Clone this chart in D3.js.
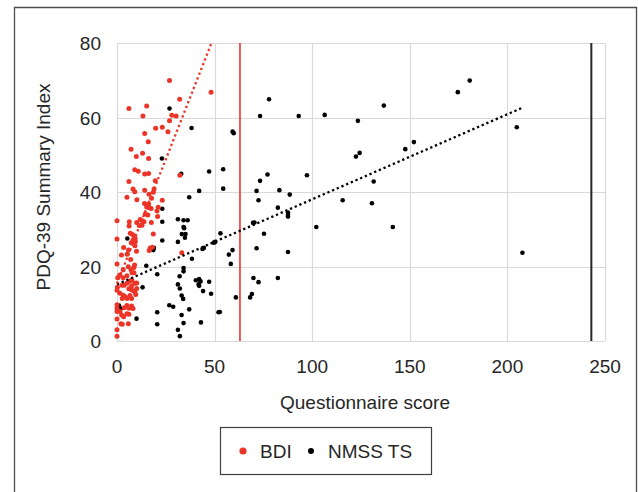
<!DOCTYPE html>
<html>
<head>
<meta charset="utf-8">
<script src="https://cdn.jsdelivr.net/npm/d3@7"></script>
<style>
  body { margin: 0; background: #fff; }
  svg { display: block; font-family: "Liberation Sans", Arial, sans-serif; }
</style>
</head>
<body>
<div id="chart"></div>
<script>
// BDI score vs PDQ-39 SI
var bdiPoints = [
  [26.9,69.9],[48.2,66.8],[32.1,64.9],[6.1,62.4],[15.2,63.1],[13.3,60.4],[28.1,60.6],[30.3,60.4],
  [26.9,59.1],[19.8,57.1],[23.2,57.4],[26.1,56.2],[14.2,55.7],[16.0,53.5],[7.2,51.5],[13.1,50.4],
  [9.9,49.5],[16.2,49.0],[9.1,46.0],[10.9,45.6],[14.2,44.8],[16.2,45.0],[6.1,42.8],[19.6,43.0],
  [8.2,40.8],[14.2,40.5],[32.2,44.5],[9.1,40.1],[19.0,40.8],[16.4,39.4],[5.1,38.6],[10.2,37.9],
  [17.7,38.3],[14.1,36.9],[16.2,36.8],[15.2,36.0],[16.6,35.8],[17.5,35.6],[21.1,35.9],[20.5,34.9],
  [14.5,34.1],[15.8,33.8],[11.9,32.6],[12.9,32.3],[13.8,32.0],[11.4,31.0],[12.8,31.1],[6.3,32.0],
  [6.2,30.9],[0,32.3],[10.1,31.8],[17.6,31.8],[18.6,28.7],[6.8,28.9],[7.9,28.6],[8.8,28.2],
  [9.3,27.6],[0,27.4],[8.2,27.1],[9.4,26.7],[7.3,26.4],[8.7,26.2],[9.2,25.6],[3.4,25.1],
  [5.9,24.4],[10.0,24.1],[16.5,24.3],[17.0,25.0],[18.1,25.2],[2.3,23.1],[5.2,23.3],[33.2,23.7],
  [0,20.7],[7.0,21.9],[9.0,20.4],[8.6,19.7],[5.8,19.9],[7.2,19.1],[3.2,19.1],[1.4,17.7],
  [0.4,17.0],[3.2,17.0],[5.1,17.5],[7.7,18.3],[8.7,18.3],[6.6,16.1],[5.1,15.5],[3.7,15.0],
  [7.5,14.8],[9.2,15.5],[7.6,16.3],[10.1,15.6],[10.1,14.1],[8.8,13.4],[7.5,13.7],[6.1,14.0],
  [0.2,14.4],[0,13.6],[2.6,15.0],[1.5,12.8],[3.2,12.3],[4.1,11.9],[5.2,11.4],[6.6,12.2],
  [7.5,11.4],[2.7,11.4],[9.2,13.2],[9.6,12.5],[0,9.7],[0,8.8],[0,7.9],[3.7,8.9],
  [5.1,9.5],[6.1,8.8],[7.5,9.4],[8.2,8.7],[2.4,7.0],[3.4,6.5],[5.1,7.3],[6.1,7.2],
  [1.5,7.9],[0,5.9],[2.0,4.6],[2.7,4.5],[5.8,4.6],[0,3.0],[0,1.3],[20.8,33.4],
  [23.2,37.8],[18.6,39.9]
];

// NMSS total score vs PDQ-39 SI
var nmssPoints = [
  [174.6,66.8],[180.7,69.9],[204.8,57.4],[207.7,23.7],[152.1,53.4],[77.9,64.9],[73.3,60.4],[93.1,60.4],
  [106.4,60.7],[136.7,63.2],[123.4,59.1],[59.2,56.2],[59.8,55.8],[147.7,51.5],[124.3,50.5],[122.4,49.5],
  [54.4,46.1],[77.1,44.7],[73.3,43.0],[97.3,44.5],[131.5,42.8],[54.4,40.9],[83.2,40.5],[71.5,40.3],
  [88.5,39.3],[72.5,37.8],[115.6,37.8],[130.6,37.0],[82.4,35.8],[87.6,34.5],[87.6,33.9],[87.6,33.4],
  [69.7,31.7],[70.4,31.8],[75.3,28.8],[102.1,30.6],[141.3,30.6],[53.0,28.9],[59.2,24.4],[57.3,23.2],
  [58.3,20.7],[71.5,24.9],[87.6,23.9],[69.9,16.9],[72.5,15.8],[82.4,16.9],[60.9,11.7],[68.2,11.7],
  [69.1,12.6],[52.7,7.8],[42.1,40.3],[37.0,38.6],[23.2,35.5],[23.2,32.0],[31.2,32.7],[34.1,32.4],
  [36.2,32.4],[34.1,30.6],[34.4,30.3],[33.2,28.7],[35.1,28.7],[34.8,27.7],[31.2,26.6],[23.2,27.0],
  [18.9,25.0],[18.6,24.4],[49.6,26.4],[50.3,26.6],[43.8,24.7],[44.5,25.0],[38.4,22.1],[34.1,19.6],
  [34.1,18.7],[32.1,17.4],[20.6,17.9],[40.4,16.3],[42.1,16.6],[42.8,16.0],[41.8,15.2],[42.1,14.8],
  [44.1,13.4],[47.2,15.9],[48.2,12.7],[31.2,15.2],[32.2,14.1],[33.1,12.2],[33.9,11.3],[26.8,9.6],
  [28.8,9.2],[37.0,8.5],[20.6,7.7],[33.1,7.0],[52.0,7.7],[20.6,4.5],[34.1,4.8],[43.0,5.0],
  [31.2,3.0],[32.2,1.3],[5.3,27.5],[15.0,20.2],[1.0,9.5],[2.0,8.7],[10.0,6.0],[13.1,14.4],
  [26.9,62.4],[38.2,57.2],[23.0,49.0],[32.9,44.9],[47.2,45.5]
];

// linear trend lines (end points)
var bdiTrend = [[0, 15.4], [48.4, 80]];
var nmssTrend = [[0, 15.2], [208, 62.7]];

// questionnaire maximum scores (vertical reference lines)
var bdiMax = 63;
var nmssMax = 243;

var xTicks = [0, 50, 100, 150, 200, 250];
var yTicks = [0, 20, 40, 60, 80];
var seriesNames = ['BDI', 'NMSS TS'];

var RED = '#ec3528';
var BLACK = '#000000';
var TEXT = '#262626';

var width = 638, height = 492;
var margin = { top: 43, right: 33, bottom: 151, left: 117 };
var innerWidth = width - margin.left - margin.right;
var innerHeight = height - margin.top - margin.bottom;

var svg = d3.select('#chart').append('svg')
    .attr('width', width)
    .attr('height', height);

svg.append('rect')
    .attr('width', width).attr('height', height)
    .attr('fill', '#fff');

// outer frame (bottom edge lies below the picture)
svg.append('path')
    .attr('d', 'M14.5,' + height + 'V7.5H636.5V' + height)
    .attr('fill', 'none')
    .attr('stroke', '#4d4d4d')
    .attr('stroke-width', 1.3);

var g = svg.append('g').attr('transform', 'translate(' + margin.left + ',' + margin.top + ')');

var x = d3.scaleLinear().domain([0, 250]).range([0, innerWidth]);
var y = d3.scaleLinear().domain([0, 80]).range([innerHeight, 0]);

// grid
g.append('g')
    .selectAll('line')
    .data(xTicks)
    .enter().append('line')
    .attr('x1', function(d){ return Math.round(x(d)) + 0.5; })
    .attr('x2', function(d){ return Math.round(x(d)) + 0.5; })
    .attr('y1', 0).attr('y2', innerHeight)
    .attr('stroke', '#d9d9d9').attr('stroke-width', 1.2);

g.append('g')
    .selectAll('line')
    .data(yTicks)
    .enter().append('line')
    .attr('y1', function(d){ return Math.round(y(d)) + 0.5; })
    .attr('y2', function(d){ return Math.round(y(d)) + 0.5; })
    .attr('x1', 0).attr('x2', innerWidth)
    .attr('stroke', '#d9d9d9').attr('stroke-width', 1.2);

// tick labels
g.append('g')
    .selectAll('text')
    .data(xTicks)
    .enter().append('text')
    .attr('x', function(d){ return x(d); })
    .attr('y', innerHeight + 32)
    .attr('text-anchor', 'middle')
    .attr('fill', TEXT)
    .style('font-size', '19px')
    .text(function(d){ return d; });

g.append('g')
    .selectAll('text')
    .data(yTicks)
    .enter().append('text')
    .attr('x', -16)
    .attr('y', function(d){ return y(d) + 7; })
    .attr('text-anchor', 'end')
    .attr('fill', TEXT)
    .style('font-size', '19px')
    .text(function(d){ return d; });

// axis titles
g.append('text')
    .attr('x', innerWidth / 2 + 4)
    .attr('y', innerHeight + 68)
    .attr('text-anchor', 'middle')
    .attr('fill', TEXT)
    .style('font-size', '19px')
    .text('Questionnaire score');

g.append('text')
    .attr('transform', 'rotate(-90)')
    .attr('x', -(187 - margin.top))
    .attr('y', 50 - margin.left)
    .attr('text-anchor', 'middle')
    .attr('fill', TEXT)
    .style('font-size', '19px')
    .text('PDQ-39 Summary Index');

// max score reference lines
g.append('line')
    .attr('x1', x(bdiMax)).attr('x2', x(bdiMax))
    .attr('y1', 0).attr('y2', innerHeight)
    .attr('stroke', RED).attr('stroke-width', 1.6);
g.append('line')
    .attr('x1', x(nmssMax)).attr('x2', x(nmssMax))
    .attr('y1', 0).attr('y2', innerHeight)
    .attr('stroke', '#262626').attr('stroke-width', 2);

// points
g.selectAll('circle.nmss')
    .data(nmssPoints)
    .enter().append('circle')
    .attr('class', 'nmss')
    .attr('cx', function(d){ return x(d[0]); })
    .attr('cy', function(d){ return y(d[1]); })
    .attr('r', 2.3)
    .attr('fill', BLACK);

g.selectAll('circle.bdi')
    .data(bdiPoints)
    .enter().append('circle')
    .attr('class', 'bdi')
    .attr('cx', function(d){ return x(d[0]); })
    .attr('cy', function(d){ return y(d[1]); })
    .attr('r', 2.5)
    .attr('fill', RED);

// trend lines
var line = d3.line()
    .x(function(d){ return x(d[0]); })
    .y(function(d){ return y(d[1]); });

g.append('path')
    .datum(nmssTrend)
    .attr('d', line)
    .attr('fill', 'none')
    .attr('stroke', BLACK)
    .attr('stroke-width', 2.3)
    .attr('stroke-dasharray', '2.3,2.8');

g.append('path')
    .datum(bdiTrend)
    .attr('d', line)
    .attr('fill', 'none')
    .attr('stroke', RED)
    .attr('stroke-width', 2.3)
    .attr('stroke-dasharray', '2.3,2.8');

// legend
var legend = svg.append('g');
legend.append('rect')
    .attr('x', 220.5).attr('y', 427.5)
    .attr('width', 211).attr('height', 47)
    .attr('fill', '#fff')
    .attr('stroke', '#404040')
    .attr('stroke-width', 1.2);
var legendX = [243, 311];
var legendColors = [RED, BLACK];
seriesNames.forEach(function(name, i){
    legend.append('circle')
        .attr('cx', legendX[i]).attr('cy', 451)
        .attr('r', i === 0 ? 3.6 : 3)
        .attr('fill', legendColors[i]);
    legend.append('text')
        .attr('x', legendX[i] + 17).attr('y', 458)
        .attr('fill', TEXT)
        .style('font-size', '19px')
        .text(name);
});
</script>
</body>
</html>
